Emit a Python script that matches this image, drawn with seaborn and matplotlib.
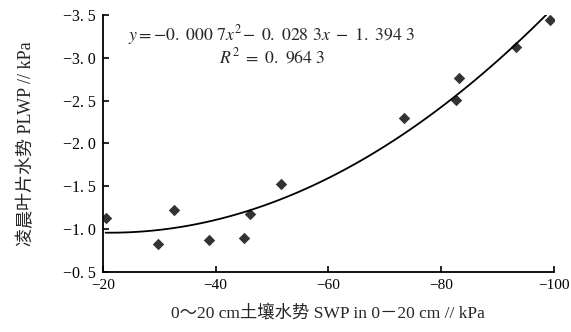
import matplotlib
matplotlib.use("Agg")
import matplotlib.pyplot as plt
import numpy as np
import pandas as pd
import seaborn as sns
from matplotlib.ticker import FuncFormatter

# soil water potential 0-20 cm (kPa) and predawn leaf water potential (kPa)
swp = [-20.5, -29.8, -32.6, -38.9, -45.0, -46.1, -51.6, -73.4, -82.7, -83.2, -93.3, -99.4]
plwp = [-1.13, -0.83, -1.22, -0.87, -0.90, -1.18, -1.53, -2.30, -2.51, -2.76, -3.12, -3.44]

x_ticks = [-20, -40, -60, -80, -100]
y_ticks = [-0.5, -1.0, -1.5, -2.0, -2.5, -3.0, -3.5]

eq_text = r"$y = -0.\ 000\ 7x^{2}\!- \ 0.\ 028\ 3x\ -\ 1.\ 394\ 3$"
r2_text = r"$R^{2}\ =\ 0.\ 964\ 3$"
x_label = "0～20 cm土壤水势 SWP in 0－20 cm // kPa"
y_label = "凌晨叶片水势 PLWP // kPa"


def fmt_cn(v, pos=None):
    s = f"{v:.1f}".replace("-", "\u2212").replace(".", ". ")
    return s


def main() -> None:
    sns.set_theme(style="ticks")
    plt.rcParams["font.family"] = ["Liberation Serif", "Noto Sans CJK SC", "DejaVu Sans"]
    plt.rcParams["mathtext.fontset"] = "stix"

    df = pd.DataFrame({"swp": swp, "plwp": plwp})

    fig = plt.figure(figsize=(5.71, 3.32), dpi=100)
    ax = fig.add_axes([0.180, 0.181, 0.790, 0.774])

    sns.regplot(
        data=df, x="swp", y="plwp", order=2, ci=None, marker="D", color="black",
        scatter_kws={"s": 34, "linewidths": 0},
        line_kws={"linewidth": 1.3},
        ax=ax,
    )

    ax.set_xlim(-20, -100)
    ax.set_ylim(-0.5, -3.5)
    ax.set_xticks(x_ticks)
    ax.set_yticks(y_ticks)
    ax.xaxis.set_major_formatter(FuncFormatter(lambda v, p: f"{int(v)}".replace("-", "\u2212")))
    ax.yaxis.set_major_formatter(FuncFormatter(fmt_cn))
    ax.tick_params(direction="in", length=4, width=1.2, labelsize=11.5, colors="black", pad=5)
    ax.tick_params(axis="x", labelsize=11)

    for side in ["top", "right"]:
        ax.spines[side].set_visible(False)
    for side in ["left", "bottom"]:
        ax.spines[side].set_linewidth(1.3)
        ax.spines[side].set_color("black")

    ax.set_xlabel(x_label, fontsize=12.5, labelpad=9)
    ax.set_ylabel(y_label, fontsize=13, labelpad=20)

    ax.text(0.055, 0.922, eq_text, transform=ax.transAxes, fontsize=12.8, va="center", ha="left")
    ax.text(0.258, 0.837, r2_text, transform=ax.transAxes, fontsize=12.8, va="center", ha="left")

    fig.savefig("out.png", dpi=100)
    plt.close(fig)


if __name__ == "__main__":
    main()
